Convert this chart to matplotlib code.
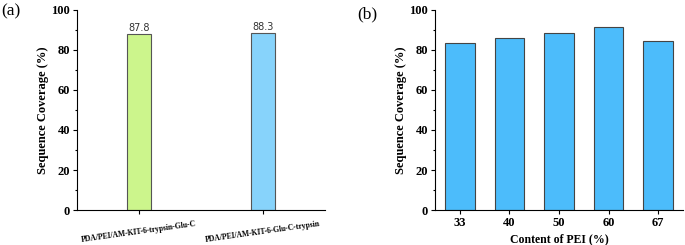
import numpy as np
import matplotlib.pyplot as plt
from matplotlib.ticker import MultipleLocator

# -----------------------------
# Data
# -----------------------------
enzymes = ['PDA/PEI/AM-KIT-6-trypsin-Glu-C', 'PDA/PEI/AM-KIT-6-Glu-C-trypsin']
coverage_a = [87.8, 88.3]
labels_a = ['87.8', '88.3']
colors_a = ['#ccf58c', '#87d3fb']

pei = ['33', '40', '50', '60', '67']
coverage_b = [83.3, 85.8, 88.3, 91.5, 84.7]

plt.rcParams['font.family'] = 'Liberation Serif'
plt.rcParams['font.weight'] = 'bold'

W, H = 685, 245
fig = plt.figure(figsize=(W / 100, H / 100), dpi=100)


def style(ax):
    ax.spines['top'].set_visible(False)
    ax.spines['right'].set_visible(False)
    ax.set_ylim(0, 100)
    ax.yaxis.set_major_locator(MultipleLocator(20))
    ax.yaxis.set_minor_locator(MultipleLocator(10))
    ax.tick_params(axis='both', direction='out', length=3, width=0.8, labelsize=9, pad=2)
    ax.tick_params(axis='y', which='minor', length=1.5, width=0.8)
    ax.set_ylabel('Sequence Coverage (%)', fontsize=9, fontweight='bold', labelpad=2)


# -----------------------------
# (a)
# -----------------------------
ax1 = fig.add_axes([77 / W, 35 / H, 248 / W, 200 / H])
style(ax1)
x = np.arange(len(enzymes))
ax1.bar(x, coverage_a, width=0.2, color=colors_a, edgecolor='#555555', linewidth=0.8)
for xi, v, s in zip(x, coverage_a, labels_a):
    ax1.text(xi, v + 0.5, s, ha='center', va='bottom', fontsize=7,
             fontweight='normal', family='DejaVu Sans', color='#333333')
ax1.set_xlim(-0.5, 1.5)
ax1.set_xticks(x)
ax1.set_xticklabels(enzymes, rotation=8, fontsize=5.5, fontweight='bold')
ax1.tick_params(axis='x', pad=4)
fig.text(1 / W, 1 - 11 / H, '(a)', fontsize=12.5, fontweight='normal', va='center')

# -----------------------------
# (b)
# -----------------------------
ax2 = fig.add_axes([435 / W, 35 / H, 248 / W, 200 / H])
style(ax2)
xb = np.arange(len(pei))
ax2.bar(xb, coverage_b, width=0.6, color='#4cbcfb', edgecolor='#444444', linewidth=0.8)
ax2.set_xlim(-0.5, 4.5)
ax2.set_xticks(xb)
ax2.set_xticklabels(pei, fontweight='bold')
ax2.set_xlabel('Content of PEI (%)', fontsize=8.5, fontweight='bold', labelpad=3)
fig.text(357 / W, 1 - 14 / H, '(b)', fontsize=12.5, fontweight='normal', va='center')

fig.savefig('out.png', dpi=100)
